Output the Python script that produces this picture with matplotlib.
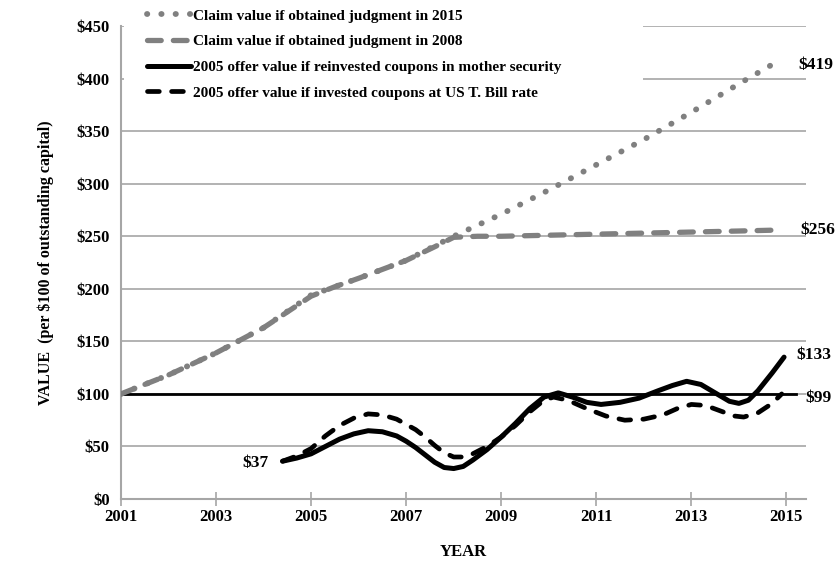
import matplotlib
matplotlib.use("Agg")
from matplotlib import pyplot as plt
from matplotlib.patches import Rectangle

plt.rcParams['font.family'] = ['Liberation Serif', 'DejaVu Serif']
plt.rcParams['font.weight'] = 'bold'
plt.rcParams['axes.labelweight'] = 'bold'

# Claim value if judgment obtained in 2008 (gray dashed)
claim08_x = [2001, 2002, 2003, 2004, 2005, 2005.5, 2006, 2007, 2007.6, 2008, 2008.5, 2009, 2010, 2011, 2012,
             2013, 2014, 2014.9]
claim08_y = [100, 118, 139, 163, 193, 202, 210, 227, 240, 249, 250, 250, 251, 252, 253, 254, 255, 256]

# Claim value if judgment obtained in 2015 (gray dotted)
claim15_x = [2001, 2002, 2003, 2004, 2005, 2006, 2007, 2008, 2009, 2010, 2011, 2012, 2013, 2014, 2014.8]
claim15_y = [100, 118, 139, 163, 194, 210, 227, 250, 271, 294, 318, 342, 368, 395, 416]

# 2005 offer, coupons reinvested in mother security (black solid)
reinv_x = [2004.4, 2004.7, 2005.0, 2005.3, 2005.6, 2005.9, 2006.2, 2006.5, 2006.8, 2007.0, 2007.2, 2007.4,
           2007.6, 2007.8, 2008.0, 2008.2, 2008.4, 2008.7, 2009.0, 2009.3, 2009.6, 2009.9, 2010.2, 2010.5,
           2010.8, 2011.1, 2011.5, 2011.9, 2012.3, 2012.6, 2012.9, 2013.2, 2013.5, 2013.8, 2014.0, 2014.2,
           2014.4, 2014.7, 2014.95]
reinv_y = [36, 39, 43, 50, 57, 62, 65, 64, 60, 55, 49, 42,
           35, 30, 29, 31, 37, 47, 59, 72, 86, 97, 101, 97,
           92, 90, 92, 96, 103, 108, 112, 109, 101, 93, 91, 94,
           103, 120, 135]

# 2005 offer, coupons invested at US T. Bill rate (black dashed)
tbill_x = [2004.4, 2004.7, 2005.0, 2005.3, 2005.6, 2005.9, 2006.2, 2006.5, 2006.8, 2007.0, 2007.2, 2007.4,
           2007.6, 2007.8, 2008.0, 2008.2, 2008.4, 2008.7, 2009.0, 2009.3, 2009.6, 2009.9, 2010.1, 2010.4,
           2010.8, 2011.2, 2011.6, 2012.0, 2012.4, 2012.7, 2013.0, 2013.3, 2013.6, 2013.9, 2014.1, 2014.4,
           2014.7, 2014.9]
tbill_y = [36, 41, 48, 60, 70, 77, 81, 80, 76, 71, 66, 59,
           51, 44, 40, 40, 43, 50, 59, 70, 83, 94, 97, 94,
           86, 79, 75, 76, 80, 86, 90, 89, 84, 79, 78, 82,
           91, 100]

y_ticks = [0, 50, 100, 150, 200, 250, 300, 350, 400, 450]
x_ticks = [2001, 2003, 2005, 2007, 2009, 2011, 2013, 2015]

fig = plt.figure(figsize=(8.4, 5.64), dpi=100)
ax = fig.add_axes([0.144, 0.1152, 0.816, 0.8386])

gray = '#808080'
ax.plot(claim15_x, claim15_y, color=gray, lw=4.2, linestyle=(0, (0.05, 2.4)),
        dash_capstyle='round', label='Claim value if obtained judgment in 2015', zorder=3)
ax.plot(claim08_x, claim08_y, color=gray, lw=3.8, linestyle=(0, (2.6, 2.3)),
        dash_capstyle='round', label='Claim value if obtained judgment in 2008', zorder=4)
ax.plot(reinv_x, reinv_y, color='black', lw=3.6, solid_capstyle='round', solid_joinstyle='round',
        label='2005 offer value if reinvested coupons in mother security', zorder=5)
ax.plot(tbill_x, tbill_y, color='black', lw=3.4, linestyle=(0, (2.5, 2.6)),
        dash_capstyle='round', dash_joinstyle='round',
        label='2005 offer value if invested coupons at US T. Bill rate', zorder=5)

ax.axhline(100, xmin=0, xmax=0.985, color='black', lw=2, zorder=2)

ax.set_xlim(2001, 2015.42)
ax.set_ylim(0, 450)
ax.set_xticks(x_ticks)
ax.set_yticks(y_ticks)
ax.set_yticklabels(['\\$%d' % v for v in y_ticks])
ax.yaxis.grid(True, color='#a6a6a6', lw=1.2)
ax.set_axisbelow(True)
for s in ['top', 'right']:
    ax.spines[s].set_visible(False)
for s in ['left', 'bottom']:
    ax.spines[s].set_color('#a6a6a6')
    ax.spines[s].set_linewidth(1.5)
ax.tick_params(axis='x', direction='inout', length=10, color='#a6a6a6', width=1.2,
               labelsize=12, pad=2)
ax.tick_params(axis='y', direction='out', length=0, labelsize=12, pad=8)

ax.set_xlabel('YEAR', fontsize=12, fontweight='bold', labelpad=14)
ax.set_ylabel('VALUE  (per \\$100 of outstanding capital)', fontsize=11.5, fontweight='bold', labelpad=16)

# white patch behind the legend hides the gridlines there
ax.add_patch(Rectangle((0.004, 0.828), 0.758, 0.2, transform=ax.transAxes,
                       facecolor='white', edgecolor='none', zorder=1.5, clip_on=False))

leg = ax.legend(loc='upper left', bbox_to_anchor=(0.038, 1.036), frameon=False,
                fontsize=11, handlelength=2.9, handletextpad=0.1, labelspacing=0.78,
                borderaxespad=0, borderpad=0)

ax.annotate('\\$419', xy=(2015.25, 413), fontsize=12.5, va='center', ha='left', annotation_clip=False)
ax.annotate('\\$256', xy=(2015.3, 256), fontsize=12.5, va='center', ha='left', annotation_clip=False)
ax.annotate('\\$133', xy=(2015.2, 137), fontsize=12.5, va='center', ha='left', annotation_clip=False)
ax.annotate('\\$99', xy=(2015.4, 96), fontsize=12.5, va='center', ha='left', annotation_clip=False)
ax.annotate('\\$37', xy=(2004.1, 34), fontsize=12.5, va='center', ha='right')

plt.savefig('out.png', format='png')
